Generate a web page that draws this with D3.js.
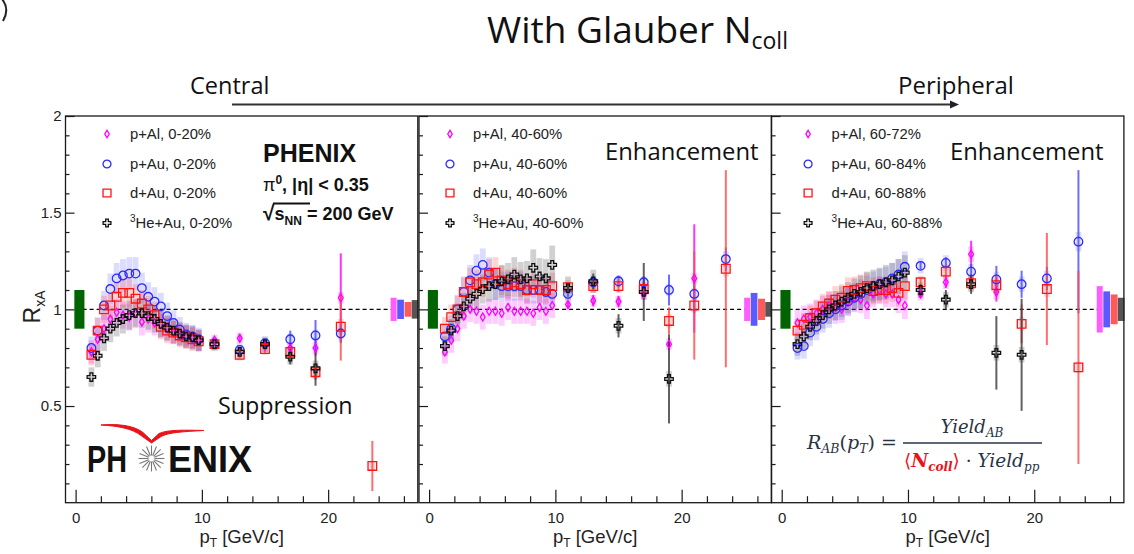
<!DOCTYPE html>
<html>
<head>
<meta charset="utf-8">
<script src="https://cdn.jsdelivr.net/npm/d3@7"></script>
<style>
  html, body { margin: 0; padding: 0; background: #fff; }
  svg { display: block; }
</style>
</head>
<body>
<svg id="chart" width="1134" height="554"></svg>
<script>
// ---------- data ----------
// pT bin centres [GeV/c]: 0.5 GeV bins up to 10, then wide bins
const ptLow  = [1.25, 1.75, 2.25, 2.75, 3.25, 3.75, 4.25, 4.75, 5.25, 5.75, 6.25, 6.75, 7.25, 7.75, 8.25, 8.75, 9.25, 9.75];
const ptHigh = [11, 13, 15, 17, 19, 21, 23.5];

// axis ticks
const xMajorTicks = [0, 10, 20];
const xMinorTicks = [2, 4, 6, 8, 12, 14, 16, 18, 22, 24, 26];
const yMajorTicks = [0.5, 1, 1.5, 2];
const yMinorTicks = [0.1, 0.2, 0.3, 0.4, 0.6, 0.7, 0.8, 0.9, 1.1, 1.2, 1.3, 1.4, 1.6, 1.7, 1.8, 1.9];

// legend labels
const centralLabels    = ["p+Al, 0-20%", "p+Au, 0-20%", "d+Au, 0-20%", "³He+Au, 0-20%"];
const midLabels        = ["p+Al, 40-60%", "p+Au, 40-60%", "d+Au, 40-60%", "³He+Au, 40-60%"];
const peripheralLabels = ["p+Al, 60-72%", "p+Au, 60-84%", "d+Au, 60-88%", "³He+Au, 60-88%"];

// R_xA values (18 low-pT bins followed by 7 high-pT bins)
const central_pAl  = [0.78, 0.845, 0.90, 0.95, 0.985, 0.97, 0.96, 0.98, 0.935, 0.95, 0.93, 0.92, 0.90, 0.88, 0.87, 0.86, 0.85, 0.84,   0.84, 0.85, 0.81, 0.80, 0.80, 1.06, null];
const central_pAu  = [0.80, 0.89, 1.02, 1.105, 1.16, 1.175, 1.185, 1.185, 1.11, 1.065, 1.04, 1.015, 0.965, 0.93, 0.895, 0.87, 0.86, 0.845,   0.82, 0.79, 0.825, 0.845, 0.865, 0.875, null];
const central_dAu  = [0.765, 0.89, 1.0, 1.02, 1.065, 1.085, 1.085, 1.055, 1.03, 1.0, 0.97, 0.91, 0.89, 0.88, 0.865, 0.855, 0.845, 0.835,   0.82, 0.765, 0.795, 0.78, 0.675, 0.91, 0.19];
const central_HeAu = [0.65, 0.76, 0.85, 0.90, 0.93, 0.95, 0.97, 0.98, 0.98, 0.965, 0.95, 0.925, 0.905, 0.89, 0.875, 0.86, 0.855, 0.84,   0.82, 0.78, 0.82, 0.755, 0.695, null, null];

const mid_pAl  = [0.78, 0.84, 0.90, 0.965, 1.0, 0.99, 0.96, 0.99, 0.99, 0.98, 1.01, 0.99, 0.99, 0.99, 0.98, 1.01, 0.99, 1.02,   1.025, 1.045, 1.04, 1.08, 0.82, 1.16, null];
const mid_pAu  = [0.86, 0.90, 1.0, 1.09, 1.15, 1.20, 1.23, 1.19, 1.13, 1.12, 1.12, 1.12, 1.12, 1.10, 1.10, 1.10, 1.09, 1.08,   1.08, 1.14, 1.145, 1.14, 1.10, 1.08, 1.26];
const mid_dAu  = [0.90, 0.96, 1.0, 1.09, 1.14, 1.13, 1.14, 1.18, 1.19, 1.15, 1.13, 1.14, 1.13, 1.10, 1.13, 1.10, 1.10, 1.12,   1.115, 1.12, 1.12, 1.105, 0.94, 1.02, 1.21];
const mid_HeAu = [0.81, 0.89, 0.965, 1.015, 1.055, 1.08, 1.105, 1.12, 1.13, 1.145, 1.155, 1.18, 1.155, 1.16, 1.215, 1.17, 1.16, 1.23,   1.11, 1.145, 0.915, 1.09, 0.64, null, null];

const peri_pAl  = [0.93, 0.95, 0.96, 0.98, 1.0, 1.02, 1.01, 1.0, 1.04, 1.06, 1.05, 1.02, 1.08, 1.10, 1.08, 1.08, 1.05, 1.02,   1.08, 1.14, 1.285, 1.09, null, null, null];
const peri_pAu  = [0.80, 0.81, 0.88, 0.91, 0.95, 0.98, 1.0, 1.02, 1.04, 1.06, 1.08, 1.10, 1.12, 1.13, 1.14, 1.16, 1.18, 1.22,   1.225, 1.24, 1.195, 1.155, 1.13, 1.16, 1.35];
const peri_dAu  = [0.89, 0.92, 0.955, 0.98, 1.015, 1.03, 1.05, 1.06, 1.095, 1.10, 1.11, 1.12, 1.095, 1.10, 1.10, 1.11, 1.085, 1.12,   1.14, 1.195, 1.135, 1.125, 0.925, 1.105, 0.70];
const peri_HeAu = [0.82, 0.86, 0.91, 0.94, 0.97, 1.0, 1.02, 1.04, 1.06, 1.08, 1.09, 1.11, 1.12, 1.13, 1.14, 1.15, 1.17, 1.19,   1.10, 1.05, 1.13, 0.775, 0.765, null, null];

// point-to-point systematic uncertainties (half heights of the shaded boxes)
const central_pAl_sys  = [0.06, 0.065, 0.07, 0.07, 0.07, 0.07, 0.07, 0.07, 0.07, 0.07, 0.065, 0.065, 0.065, 0.06, 0.06, 0.06, 0.06, 0.055,   0.03, 0.03, 0.03, 0.03, 0.03, 0.03, 0];
const central_pAu_sys  = [0.06, 0.07, 0.075, 0.08, 0.08, 0.085, 0.085, 0.085, 0.08, 0.075, 0.075, 0.07, 0.07, 0.065, 0.065, 0.06, 0.06, 0.06,   0.03, 0.03, 0.03, 0.03, 0.03, 0.03, 0];
const central_dAu_sys  = [0.055, 0.065, 0.07, 0.07, 0.075, 0.075, 0.075, 0.075, 0.07, 0.07, 0.07, 0.065, 0.065, 0.06, 0.06, 0.06, 0.06, 0.055,   0.03, 0.03, 0.03, 0.03, 0.035, 0.04, 0.02];
const central_HeAu_sys = [0.05, 0.06, 0.065, 0.07, 0.07, 0.075, 0.075, 0.075, 0.075, 0.07, 0.07, 0.07, 0.065, 0.065, 0.06, 0.06, 0.06, 0.055,   0.035, 0.035, 0.04, 0.04, 0.04, 0, 0];

const mid_pAl_sys  = [0.06, 0.065, 0.065, 0.065, 0.065, 0.065, 0.065, 0.065, 0.065, 0.065, 0.065, 0.065, 0.065, 0.065, 0.065, 0.065, 0.065, 0.065,   0.03, 0.03, 0.03, 0.03, 0.03, 0.03, 0];
const mid_pAu_sys  = [0.06, 0.07, 0.075, 0.08, 0.08, 0.085, 0.085, 0.08, 0.08, 0.075, 0.075, 0.075, 0.075, 0.07, 0.07, 0.07, 0.07, 0.07,   0.03, 0.03, 0.03, 0.03, 0.03, 0.03, 0.04];
const mid_dAu_sys  = [0.06, 0.065, 0.07, 0.075, 0.075, 0.075, 0.075, 0.08, 0.08, 0.075, 0.075, 0.075, 0.075, 0.07, 0.07, 0.07, 0.07, 0.07,   0.035, 0.035, 0.035, 0.035, 0.035, 0.035, 0.04];
const mid_HeAu_sys = [0.05, 0.06, 0.065, 0.07, 0.07, 0.075, 0.075, 0.08, 0.08, 0.085, 0.085, 0.09, 0.09, 0.09, 0.095, 0.095, 0.1, 0.1,   0.06, 0.06, 0.04, 0.04, 0.04, 0, 0];

const peri_pAl_sys  = [0.07, 0.07, 0.07, 0.07, 0.07, 0.07, 0.07, 0.07, 0.07, 0.07, 0.07, 0.07, 0.07, 0.07, 0.07, 0.07, 0.07, 0.07,   0.035, 0.035, 0.04, 0.04, 0, 0, 0];
const peri_pAu_sys  = [0.06, 0.065, 0.07, 0.07, 0.07, 0.075, 0.075, 0.075, 0.075, 0.075, 0.075, 0.075, 0.075, 0.08, 0.08, 0.08, 0.08, 0.08,   0.04, 0.04, 0.04, 0.04, 0.04, 0.04, 0.05];
const peri_dAu_sys  = [0.06, 0.06, 0.065, 0.065, 0.065, 0.065, 0.07, 0.07, 0.07, 0.07, 0.07, 0.07, 0.07, 0.07, 0.07, 0.07, 0.07, 0.07,   0.035, 0.035, 0.035, 0.035, 0.035, 0.04, 0.03];
const peri_HeAu_sys = [0.06, 0.065, 0.07, 0.07, 0.07, 0.075, 0.075, 0.08, 0.08, 0.08, 0.085, 0.085, 0.085, 0.085, 0.09, 0.09, 0.09, 0.09,   0.04, 0.04, 0.04, 0.04, 0.04, 0, 0];

// statistical errors of the high-pT bins
const central_pAl_stat  = [0.01, 0.02, 0.02, 0.03, 0.04, 0.23, 0];
const central_pAu_stat  = [0.01, 0.015, 0.02, 0.045, 0.08, 0.05, 0];
const central_dAu_stat  = [0.01, 0.015, 0.02, 0.03, 0.04, 0.175, 0.13];
const central_HeAu_stat = [0.01, 0.02, 0.02, 0.04, 0.09, 0, 0];

const mid_pAl_stat  = [0.02, 0.03, 0.03, 0.03, 0.03, 0.28, 0];
const mid_pAu_stat  = [0.015, 0.02, 0.03, 0.03, 0.08, 0.1, 0.06];
const mid_dAu_stat  = [0.015, 0.02, 0.03, 0.03, 0.07, 0.28, 0.51];
const mid_HeAu_stat = [0.02, 0.04, 0.06, 0.15, 0.23, 0, 0];

const peri_pAl_stat  = [0.02, 0.03, 0.07, 0.05, 0, 0, 0];
const peri_pAu_stat  = [0.02, 0.03, 0.04, 0.07, 0.07, 0.06, 0.37];
const peri_dAu_stat  = [0.02, 0.03, 0.04, 0.05, 0.1, 0.29, 0.5];
const peri_HeAu_stat = [0.03, 0.05, 0.05, 0.19, 0.29, 0, 0];

// global (normalisation) uncertainties per system: p+Al, p+Au, d+Au, 3He+Au
const central_norm = [0.06, 0.05, 0.038, 0.048];
const mid_norm     = [0.06, 0.085, 0.055, 0.038];
const peri_norm    = [0.12, 0.093, 0.077, 0.06];
// common (p+p) normalisation uncertainty
const ppNorm = 0.1;

// ---------- layout ----------
const svg = d3.select("#chart");
const panelLefts = [65.5, 419, 771.6];
const panelW = 352.3;
const plotTop = 116, plotBottom = 502.7;

const x = d3.scaleLinear().domain([-0.8, 27.1]).range([0, panelW]);
const y = d3.scaleLinear().domain([0, 2]).range([plotBottom - plotTop, 0]);
const pt = ptLow.concat(ptHigh);

// thin, tall open diamond used for p+Al
const tallDiamond = {
  draw(ctx, size) {
    const s = Math.sqrt(size);
    const w = s * 0.3, h = s * 0.5;
    ctx.moveTo(0, -h); ctx.lineTo(w, 0); ctx.lineTo(0, h); ctx.lineTo(-w, 0); ctx.closePath();
  }
};

const styles = [
  { stroke: "#ff00ff", box: "#ff00ff", boxOp: 0.2,  err: "#ff00ff", norm: "#ff5cff", type: tallDiamond,     size: 64 },
  { stroke: "#2b2bff", box: "#3c3cff", boxOp: 0.18, err: "#4a4aff", norm: "#5a5aff", type: d3.symbolCircle, size: 58 },
  { stroke: "#ff1414", box: "#ff2a2a", boxOp: 0.2,  err: "#ff4a4a", norm: "#ff5a5a", type: d3.symbolSquare, size: 74 },
  { stroke: "#111111", box: "#5a5a5a", boxOp: 0.28, err: "#3a3a3a", norm: "#555555", type: d3.symbolCross,  size: 40 }
];
// x extents of the global uncertainty boxes at the right edge
const normSlots = [[24.95, 25.42], [25.47, 26.0], [26.05, 26.6], [26.62, 27.15]];

const panels = [
  { labels: centralLabels, norm: central_norm,
    series: [
      { v: central_pAl,  sys: central_pAl_sys,  stat: central_pAl_stat },
      { v: central_pAu,  sys: central_pAu_sys,  stat: central_pAu_stat },
      { v: central_dAu,  sys: central_dAu_sys,  stat: central_dAu_stat },
      { v: central_HeAu, sys: central_HeAu_sys, stat: central_HeAu_stat } ],
    legendMarkerX: 41.5, legendTextX: 64.5 },
  { labels: midLabels, norm: mid_norm,
    series: [
      { v: mid_pAl,  sys: mid_pAl_sys,  stat: mid_pAl_stat },
      { v: mid_pAu,  sys: mid_pAu_sys,  stat: mid_pAu_stat },
      { v: mid_dAu,  sys: mid_dAu_sys,  stat: mid_dAu_stat },
      { v: mid_HeAu, sys: mid_HeAu_sys, stat: mid_HeAu_stat } ],
    legendMarkerX: 31, legendTextX: 54 },
  { labels: peripheralLabels, norm: peri_norm,
    series: [
      { v: peri_pAl,  sys: peri_pAl_sys,  stat: peri_pAl_stat },
      { v: peri_pAu,  sys: peri_pAu_sys,  stat: peri_pAu_stat },
      { v: peri_dAu,  sys: peri_dAu_sys,  stat: peri_dAu_stat },
      { v: peri_HeAu, sys: peri_HeAu_sys, stat: peri_HeAu_stat } ],
    legendMarkerX: 36.5, legendTextX: 60 }
];

const axisFont = "'Liberation Sans', Arial, Helvetica, sans-serif";
const legendRows = [18, 48, 77, 107];

panels.forEach((panel, pi) => {
  const g = svg.append("g").attr("transform", `translate(${panelLefts[pi]},${plotTop})`);

  // reference line at R = 1
  g.append("line")
    .attr("x1", x(0)).attr("x2", x(25)).attr("y1", y(1)).attr("y2", y(1))
    .attr("stroke", "#000").attr("stroke-width", 1.3).attr("stroke-dasharray", "4,3");

  // p+p normalisation box
  g.append("rect")
    .attr("x", x(-0.1)).attr("width", x(0.7) - x(-0.1))
    .attr("y", y(1 + ppNorm)).attr("height", y(1 - ppNorm) - y(1 + ppNorm))
    .attr("fill", "#006400");

  // global uncertainty boxes per system
  g.append("g").selectAll("rect").data(panel.norm).join("rect")
    .attr("x", (d, k) => x(normSlots[k][0]))
    .attr("width", (d, k) => x(normSlots[k][1]) - x(normSlots[k][0]))
    .attr("y", d => y(1 + d))
    .attr("height", d => y(1 - d) - y(1 + d))
    .attr("fill", (d, k) => styles[k].norm);

  const seriesPts = panel.series.map(s => pt.map((p, j) => ({
      p, v: s.v[j], sys: s.sys[j], stat: j >= ptLow.length ? s.stat[j - ptLow.length] : 0
    })).filter(d => d.v !== null));

  // systematic boxes
  seriesPts.forEach((pts, k) => {
    g.append("g").selectAll("rect").data(pts.filter(d => d.sys > 0)).join("rect")
      .attr("x", d => x(d.p - 0.23)).attr("width", x(0.23) - x(-0.23))
      .attr("y", d => y(d.v + d.sys)).attr("height", d => y(d.v - d.sys) - y(d.v + d.sys))
      .attr("fill", styles[k].box).attr("fill-opacity", styles[k].boxOp);
  });

  // statistical error bars
  seriesPts.forEach((pts, k) => {
    g.append("g").selectAll("line").data(pts.filter(d => d.stat > 0)).join("line")
      .attr("x1", d => x(d.p)).attr("x2", d => x(d.p))
      .attr("y1", d => y(d.v + d.stat)).attr("y2", d => y(d.v - d.stat))
      .attr("stroke", styles[k].err).attr("stroke-width", 2).attr("stroke-opacity", 0.8);
  });

  // markers
  seriesPts.forEach((pts, k) => {
    const sym = d3.symbol().type(styles[k].type).size(styles[k].size);
    g.append("g").selectAll("path").data(pts).join("path")
      .attr("transform", d => `translate(${x(d.p)},${y(d.v)})`)
      .attr("d", sym)
      .attr("fill", "none").attr("stroke", styles[k].stroke).attr("stroke-width", 1.3);
  });

  // frame
  g.append("rect").attr("x", 0).attr("y", 0).attr("width", panelW).attr("height", plotBottom - plotTop)
    .attr("fill", "none").attr("stroke", "#1a1a1a").attr("stroke-width", 1.3);

  // y ticks (inside), labels on the first panel only
  const yMinor = g.append("g").call(d3.axisLeft(y).tickValues(yMinorTicks).tickSize(-4).tickFormat(""));
  const yMajor = g.append("g").call(d3.axisLeft(y).tickValues(yMajorTicks).tickSize(-9).tickPadding(4)
      .tickFormat(pi === 0 ? (d => String(d)) : ""));
  [yMinor, yMajor].forEach(a => {
    a.select(".domain").remove();
    a.selectAll("line").attr("stroke", "#1a1a1a").attr("stroke-width", 1.2);
    a.selectAll("text").attr("font-family", axisFont).attr("font-size", 15).attr("fill", "#222");
  });

  // x ticks (inside, pointing up)
  const xg = g.append("g").attr("transform", `translate(0,${plotBottom - plotTop})`);
  const xMinor = xg.append("g").call(d3.axisBottom(x).tickValues(xMinorTicks).tickSize(-6.5).tickFormat(""));
  const xMajor = xg.append("g").call(d3.axisBottom(x).tickValues(xMajorTicks).tickSize(-13).tickPadding(10).tickFormat(d3.format("d")));
  [xMinor, xMajor].forEach(a => {
    a.select(".domain").remove();
    a.selectAll("line").attr("stroke", "#1a1a1a").attr("stroke-width", 1.2);
    a.selectAll("text").attr("font-family", axisFont).attr("font-size", 15).attr("fill", "#222");
  });

  // x title
  const xt = g.append("text").attr("x", panelW / 2).attr("y", 543 - plotTop)
    .attr("text-anchor", "middle").attr("font-family", axisFont).attr("font-size", 18.5).attr("fill", "#222");
  xt.append("tspan").text("p");
  xt.append("tspan").attr("dy", 4).attr("font-size", 12).text("T");
  xt.append("tspan").attr("dy", -4).text(" [GeV/c]");

  // legend
  panel.labels.forEach((lab, k) => {
    const yy = legendRows[k];
    g.append("path")
      .attr("transform", `translate(${panel.legendMarkerX},${yy})`)
      .attr("d", d3.symbol().type(styles[k].type).size(styles[k].size * 0.85)())
      .attr("fill", "none").attr("stroke", styles[k].stroke).attr("stroke-width", 1.3);
    const t = g.append("text").attr("x", panel.legendTextX).attr("y", yy + 5)
      .attr("font-family", axisFont).attr("font-size", 14.8).attr("fill", "#222");
    if (lab.startsWith("³")) {
      t.append("tspan").attr("font-size", 10).attr("dy", -6).text("3");
      t.append("tspan").attr("dy", 6).text(lab.slice(1));
    } else {
      t.text(lab);
    }
  });
});

// ---------- y axis title ----------
const yTitle = svg.append("text")
  .attr("transform", "translate(40,307) rotate(-90)")
  .attr("text-anchor", "middle").attr("font-family", axisFont).attr("font-size", 23).attr("fill", "#222");
yTitle.append("tspan").text("R");
yTitle.append("tspan").attr("font-size", 14).attr("dy", 5).text("xA");

// ---------- experiment block (first panel) ----------
const boldFont = axisFont;
svg.append("text").attr("x", 263).attr("y", 162).attr("font-family", boldFont)
  .attr("font-weight", "bold").attr("font-size", 25).attr("fill", "#111").text("PHENIX");
const piLine = svg.append("text").attr("x", 263).attr("y", 191).attr("font-family", boldFont)
  .attr("font-weight", "bold").attr("font-size", 18).attr("fill", "#111");
piLine.append("tspan").attr("font-weight", "normal").text("π");
piLine.append("tspan").attr("font-size", 12).attr("dy", -7).text("0");
piLine.append("tspan").attr("dy", 7).text(", |η| < 0.35");

const sLine = svg.append("text").attr("x", 263).attr("y", 220).attr("font-family", boldFont)
  .attr("font-weight", "bold").attr("font-size", 18).attr("fill", "#111");
sLine.append("tspan").attr("font-size", 21).text("√");
sLine.append("tspan").text("s");
sLine.append("tspan").attr("font-size", 12).attr("dy", 5).text("NN");
sLine.append("tspan").attr("dy", -5).text(" = 200 GeV");
// overline of the square root
svg.append("line").attr("x1", 273).attr("x2", 310).attr("y1", 203.5).attr("y2", 203.5)
  .attr("stroke", "#111").attr("stroke-width", 1.8);

// ---------- logo ----------
const logo = svg.append("g");
logo.append("text").attr("x", 87).attr("y", 472).attr("font-family", axisFont).attr("font-weight", "bold")
  .attr("font-size", 36).attr("textLength", 40).attr("lengthAdjust", "spacingAndGlyphs").attr("fill", "#111").text("PH");
logo.append("text").attr("x", 168).attr("y", 472).attr("font-family", axisFont).attr("font-weight", "bold")
  .attr("font-size", 36).attr("textLength", 84).attr("lengthAdjust", "spacingAndGlyphs").attr("fill", "#111").text("ENIX");
const spokes = d3.range(16).map(i => i * Math.PI / 8);
logo.append("g").attr("transform", "translate(151.5,458.5)")
  .selectAll("line").data(spokes).join("line")
  .attr("x1", a => 3 * Math.cos(a)).attr("y1", a => 3 * Math.sin(a))
  .attr("x2", a => 13 * Math.cos(a)).attr("y2", a => 13 * Math.sin(a))
  .attr("stroke", "#777").attr("stroke-width", 1.1);
logo.append("path")
  .attr("d", "M101,425 C118,423.5 134,425.5 143,432.5 L151.5,440.5 L159,433.5 C168,429.5 184,430 204,430.5 C184,431.5 168,432.5 161,436.5 L151.5,443 L141,435.5 C132,428.5 118,426 101,425 Z")
  .attr("fill", "#e8141b").attr("stroke", "#e8141b").attr("stroke-width", 1);

// ---------- annotations ----------
const noteFont = "'Open Sans', 'Noto Sans', sans-serif";
svg.append("text").attr("x", 218).attr("y", 414).attr("font-family", noteFont)
  .attr("font-size", 23.3).attr("fill", "#111").text("Suppression");
svg.append("text").attr("x", 605).attr("y", 160).attr("font-family", noteFont)
  .attr("font-size", 23.8).attr("fill", "#111").text("Enhancement");
svg.append("text").attr("x", 950).attr("y", 160).attr("font-family", noteFont)
  .attr("font-size", 23.8).attr("fill", "#111").text("Enhancement");

// stray bracket stroke in the page corner
svg.append("path").attr("d", "M2,-1 Q10,9 3,21").attr("fill", "none")
  .attr("stroke", "#222").attr("stroke-width", 2);

// title
const title = svg.append("text").attr("x", 487).attr("y", 43).attr("font-family", noteFont)
  .attr("font-size", 37).attr("fill", "#111");
title.append("tspan").text("With Glauber N");
title.append("tspan").attr("font-size", 23).attr("dy", 6).text("coll");

// centrality arrow
svg.append("text").attr("x", 190).attr("y", 94).attr("font-family", noteFont)
  .attr("font-size", 23.5).attr("fill", "#111").text("Central");
svg.append("text").attr("x", 898).attr("y", 94).attr("font-family", noteFont)
  .attr("font-size", 24).attr("fill", "#111").text("Peripheral");
svg.append("line").attr("x1", 232).attr("x2", 952).attr("y1", 104.5).attr("y2", 104.5)
  .attr("stroke", "#333").attr("stroke-width", 2);
svg.append("path").attr("d", "M950,100.5 L959,104.5 L950,108.5 Z").attr("fill", "#222");

// ---------- formula ----------
const mathFont = "'DejaVu Serif', 'Liberation Serif', serif";
const mathColor = "#2a3346";
const lhs = svg.append("text").attr("x", 807).attr("y", 449).attr("font-family", mathFont)
  .attr("font-style", "italic").attr("font-size", 19).attr("fill", mathColor);
lhs.append("tspan").text("R");
lhs.append("tspan").attr("font-size", 12.5).attr("dy", 4).text("AB");
lhs.append("tspan").attr("dy", -4).attr("font-style", "normal").text("(");
lhs.append("tspan").text("p");
lhs.append("tspan").attr("font-size", 12.5).attr("dy", 4).text("T");
lhs.append("tspan").attr("dy", -4).attr("font-style", "normal").text(") =");

svg.append("line").attr("x1", 903).attr("x2", 1042).attr("y1", 443).attr("y2", 443)
  .attr("stroke", mathColor).attr("stroke-width", 1.3);

const num = svg.append("text").attr("x", 972).attr("y", 433).attr("text-anchor", "middle")
  .attr("font-family", mathFont).attr("font-style", "italic").attr("font-size", 18).attr("fill", mathColor);
num.append("tspan").text("Yield");
num.append("tspan").attr("font-size", 12).attr("dy", 4).text("AB");

const den = svg.append("text").attr("x", 904).attr("y", 467)
  .attr("font-family", mathFont).attr("font-style", "italic").attr("font-size", 18.5).attr("fill", mathColor);
den.append("tspan").attr("fill", "#e8141b").attr("font-style", "normal").text("⟨");
den.append("tspan").attr("fill", "#e8141b").attr("font-weight", "bold").text("N");
den.append("tspan").attr("fill", "#e8141b").attr("font-weight", "bold").attr("font-size", 12).attr("dy", 4).text("coll");
den.append("tspan").attr("fill", "#e8141b").attr("font-style", "normal").attr("dy", -4).text("⟩");
den.append("tspan").attr("font-style", "normal").text(" · ");
den.append("tspan").text("Yield");
den.append("tspan").attr("font-size", 12).attr("dy", 4).text("pp");
</script>
</body>
</html>
